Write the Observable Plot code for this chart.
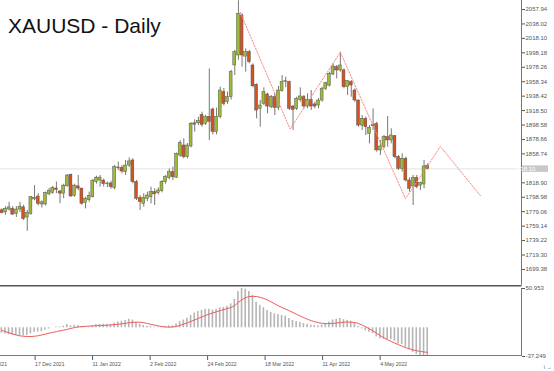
<!DOCTYPE html>
<html><head><meta charset="utf-8">
<script src="https://cdn.jsdelivr.net/npm/d3@7"></script>
<script src="https://cdn.jsdelivr.net/npm/@observablehq/plot@0.6"></script>
<style>
body{margin:0;background:#fff;}
#wrap{position:relative;width:554px;height:371px;overflow:hidden;font-family:"Liberation Sans",Arial,sans-serif;background:#fff;}
#title{position:absolute;left:8px;top:15px;font-size:21px;line-height:21px;color:#111;white-space:nowrap;}
#main{position:absolute;left:0;top:0;}
#sub{position:absolute;left:0;top:285px;}
</style></head><body>
<div id="wrap"><div id="main"></div><div id="sub"></div><div id="title">XAUUSD - Daily</div></div>
<script>
// ---- daily candles (bar index 0 = first visible bar) ----
const open = [1781,1778,1782,1783,1776,1782,1785,1771,1776,1796,
1800,1789,1789,1803,1805,1811,1807,1804,1814,1830,
1801,1814,1811,1791,1795,1799,1820,1822,1822,1817,
1818,1812,1840,1839.5,1833.6,1842.7,1849.7,1819.8,1797.7,1789.9,
1796.8,1799.1,1806,1804.6,1807.4,1819.8,1825.8,1833.6,1826,1856.5,
1870.3,1854.3,1869,1901,1901,1912.6,1900.2,1910,1920,1889,
1909.4,1944,1930.1,1937,1980.7,1994.5,2049.7,1993,1999,1980.7,
1954,1921,1927.8,1940.7,1923.2,1937,1922.3,1945.3,1958,1957.7,
1924.1,1920.9,1933.4,1937,1924.1,1933.3,1927,1925.5,1932.4,1948.5,
1953,1968.3,1978.4,1973.8,1974,1950.8,1957.7,1946.2,1932.4,1897.9,
1907.1,1886.4,1898.8,1900.2,1863.5,1868.1,1881.9,1877.3,1883.2,1854.3,
1838.2,1852,1822.1,1813.8,1825.8,1815,1816.6,1842.3];
const high = [1783,1786,1792,1786,1786,1792,1788,1781,1800,1815,
1804,1794,1806,1811,1814,1820,1808,1817,1830,1831,
1817,1829,1811,1799,1806,1823,1828,1829,1824,1820,
1821,1843,1847.4,1842.7,1849.7,1853.3,1852,1822,1801.4,1803.7,
1806,1812.9,1810.6,1812,1822,1829,1838,1840.5,1860,1877,
1879.5,1873,1902,1905.7,1909.4,1916.3,1912,1976,1922,1922,
1951,1949,1944,1974,2001.4,2070,2052,2003.7,2001.4,1983,
1955.4,1932.4,1949.9,1942.5,1939.3,1941.6,1951.7,1966.9,1964.6,1959.1,
1925.5,1937,1949.9,1939.3,1941.6,1946.2,1930,1935,1950.8,1957.7,
1971.5,1983,1980.7,1999.1,1976,1960,1960,1948.5,1933.3,1911.7,
1909.4,1897.9,1920.9,1902.5,1877.3,1884.1,1910.4,1893.3,1884.1,1856.6,
1858.9,1854.3,1825.7,1829,1829,1819.8,1849.7,1845];
const low = [1776,1774,1780,1774,1771,1778,1767,1752,1774,1794,
1787,1784,1787,1801,1803,1804,1790,1797,1813,1799,
1799,1808,1788,1783,1792,1798,1817,1813,1813,1812,
1810,1809,1835.9,1831.3,1829,1840,1817.5,1794.5,1780.7,1785.3,
1793,1789.9,1787.6,1802,1805,1817,1823,1822,1825,1854,
1851.9,1852,1867,1888.7,1897.9,1895.6,1898,1877,1885,1885,
1907,1925,1927,1933,1966.9,1988,1978.4,1971.5,1983,1950,
1907.1,1895.6,1925.5,1914,1921,1911.7,1918.6,1943.9,1950,1918.6,
1891,1918.6,1930.1,1920.9,1920.9,1918.6,1921,1921,1930.1,1946.2,
1951,1966.9,1962.3,1971.5,1948.5,1939.3,1937,1930.1,1895.6,1891,
1884.1,1872.6,1891,1861.2,1856.6,1865.8,1868.1,1872.6,1851.9,1835.9,
1833.6,1819.8,1806,1787.6,1810.6,1808.3,1810.6,1836.8];
const close = [1777,1783,1785,1775,1782,1786,1769,1777,1799,1798,
1790,1792,1805,1808,1812,1809,1804,1815,1829,1800,
1815,1811,1790,1797,1801,1822,1826,1826,1817,1818,
1813,1840.5,1839,1834.5,1842.7,1848.3,1819.8,1796.8,1792.2,1798.2,
1801.4,1805.9,1803,1808.3,1819.8,1826.7,1833.6,1826.7,1858.8,1873.5,
1854.3,1870.3,1900.2,1899,1903.9,1898.8,1909.4,1903,1889,1910,
1946.2,1927.8,1937,1971.5,1999.1,2052,1994.5,1999,1985.3,1952,
1918.6,1925.5,1944,1924.1,1937,1922.3,1946.2,1957.7,1959,1921,
1919.5,1934.7,1938,1924.1,1933.3,1924.1,1924.1,1932.4,1948.5,1956.3,
1969.2,1979.3,1973.8,1980.7,1950.8,1959.1,1953.1,1932.4,1897.9,1907.1,
1895.6,1894.7,1897,1863.5,1869,1881.9,1877.3,1884.1,1854.3,1838.2,
1852,1822.1,1810.6,1825.8,1812.9,1818.4,1841.4,1838.1];
const lastPrice = 1838.1;

// ---- MACD (histogram = main, line = signal) ----
const macdMain = [-7,-8,-9,-9.5,-10,-10,-10.5,-10,-8,-6,
-5.5,-5,-3,-1.5,0,1,1,2,4,2.5,
3,3,1.5,1,1,2.5,4,4.5,4.5,4.5,
4,6,7.5,8.5,9.5,11,10,7,4.5,3,
2,1.5,1,0.8,1.2,1.8,2.5,2.5,5,8,
10,12.5,16,19,21,22.5,24,24,23,24,
26,26.5,28,31,37,47,50.95,50,47,42,
33,29,26,22.5,20,18,17,16,15,12,
9.5,8,7,5.5,4.5,3.5,3,2.5,3.5,5.5,
7.5,10,11,12,10.5,9.5,8.5,6,1.5,-1.5,
-4,-6,-7.5,-12,-14.5,-15,-15.5,-15.5,-17.5,-21,
-21.5,-25,-28.5,-32,-34.5,-36,-37.25,-36.5];
const macdSignal = [-3.5,-5,-6.5,-8,-9.5,-10.5,-11,-11.3,-11.3,-11,
-10.3,-9.3,-8.2,-7,-6,-5,-4,-3,-2,-0.8,
0.3,1,1.5,1.9,2.2,2.5,2.7,2.9,3.1,3.4,
3.7,4.1,4.6,5.2,5.8,6.5,7.1,7.3,7.2,6.6,
5.6,4.5,3.5,2.5,1.6,1,0.8,1,1.8,3.2,
4.8,6.5,8.3,10.2,12.2,14.2,16.1,17.8,19.3,20.8,
22.3,23.7,25,26.5,29,33,36.5,39,40.5,40.8,
40.5,39.5,38,36,33.5,31,28.5,26.3,24.2,22,
19.8,17.5,15.2,13,11,9.3,7.8,6.6,5.8,5.4,
5.4,5.7,6.2,6.8,7.2,7.4,7.3,6.8,5.5,3.5,
1.2,-1.5,-4.2,-7.2,-10.2,-13,-15.5,-17.8,-20,-22,
-24,-25.8,-27.3,-28.7,-29.8,-30.7,-31.4,-31.8];
const macdTicks = [50.953, -37.249];

// ---- zigzag projection (bar index, price) ----
const zzIndex = [65.5, 79.2, 93, 110.9, 120.5, 131.5];
const zzPrice = [2054, 1893, 1999, 1797, 1869, 1801];

// ---- axes ----
const priceTicks = [2057.94,2038.02,2018.10,1998.18,1978.26,1958.34,1938.42,1918.50,1898.58,1878.66,1858.74,1838.82,1818.90,1798.98,1779.06,1759.14,1739.22,1719.30,1699.38];
const dateIndex = [-7.06, 8.74, 24.53, 40.33, 56.13, 71.92, 87.72, 103.52];
const dateLabels = ["25 Nov 2021","17 Dec 2021","11 Jan 2022","2 Feb 2022","24 Feb 2022","18 Mar 2022","11 Apr 2022","4 May 2022"];

const GREEN = "#9cba36", RED = "#d6521e";
const bars = open.map((o, i) => ({i, o, h: high[i], l: low[i], c: close[i], up: close[i] >= o}));
const macd = macdMain.map((h, i) => ({i, h, s: macdSignal[i]}));
const zz = zzIndex.map((i, k) => ({i, p: zzPrice[k]}));
const xDomain = [-0.357, 142.77];
const font = {fontFamily: "'Liberation Sans', Arial, sans-serif", fontSize: "6px", background: "transparent"};

const main = Plot.plot({
  width: 554, height: 285, marginLeft: 0, marginRight: 33, marginTop: 0, marginBottom: 0,
  x: {domain: xDomain, axis: null},
  y: {domain: [1677.25, 2070.35], axis: null},
  color: {type: "identity"},
  style: font,
  marks: [
    Plot.ruleY([lastPrice], {stroke: "#e2e2e2", strokeWidth: 1}),
    Plot.ruleX(bars, {x: "i", y1: "l", y2: "h", stroke: "#777", strokeWidth: 1}),
    Plot.rect(bars, {x1: d => d.i - 0.4, x2: d => d.i + 0.4, y1: "o", y2: "c", fill: d => d.up ? GREEN : RED, stroke: "#555", strokeWidth: 0.5}),
    Plot.line(zz, {x: "i", y: "p", stroke: "#f48c8c", strokeWidth: 1, strokeDasharray: "1.5,1.5"}),
    Plot.ruleX([xDomain[1]], {stroke: "#777", strokeWidth: 1}),
    Plot.axisY({anchor: "right", ticks: priceTicks, tickFormat: d => d === 1838.82 ? "" : d.toFixed(2), tickSize: 3, tickPadding: 1, color: "#555", fontSize: 6})
  ]
});
document.getElementById("main").appendChild(main);
{
  const svg = d3.select(main);
  const y = main.scale("y").apply(lastPrice);
  svg.append("rect").attr("x", 522).attr("y", y - 3).attr("width", 26).attr("height", 6.5).attr("fill", "#c8c8c8");
  svg.append("text").attr("x", 524.5).attr("y", y + 0.2).attr("dy", "0.32em").attr("fill", "#fff").attr("font-size", 6).text(lastPrice.toFixed(2));
}

const sub = Plot.plot({
  width: 554, height: 86, marginLeft: 0, marginRight: 33, marginTop: 3, marginBottom: 15,
  x: {domain: xDomain, axis: null},
  y: {domain: [-37.249, 50.953], axis: null},
  style: font,
  marks: [
    Plot.rect(macd, {x1: d => d.i - 0.22, x2: d => d.i + 0.22, y1: 0, y2: "h", fill: "#b5b5b5"}),
    Plot.line(macd, {x: "i", y: "s", stroke: "#f05a5a", strokeWidth: 1, curve: "monotone-x"}),
    Plot.ruleX([xDomain[1]], {stroke: "#777", strokeWidth: 1}),
    Plot.axisY({anchor: "right", ticks: macdTicks, tickFormat: d => String(d), tickSize: 3, tickPadding: 1, color: "#555", fontSize: 6}),
    Plot.axisX({anchor: "bottom", ticks: dateIndex, tickFormat: d => dateLabels[dateIndex.indexOf(d)], tickSize: 4, tickPadding: 2, textAnchor: "start", dx: 1.5, color: "#555", fontSize: 5.2})
  ]
});
document.getElementById("sub").appendChild(sub);
{
  const svg = d3.select(sub);
  const xr = sub.scale("x").apply(xDomain[1]);
  svg.append("line").attr("x1", 0).attr("x2", xr + 0.5).attr("y1", 0.5).attr("y2", 0.5).attr("stroke", "#555").attr("stroke-width", 2);
  svg.append("line").attr("x1", 0).attr("x2", xr + 0.5).attr("y1", 70.5).attr("y2", 70.5).attr("stroke", "#777").attr("stroke-width", 1);
}
</script>
</body></html>
